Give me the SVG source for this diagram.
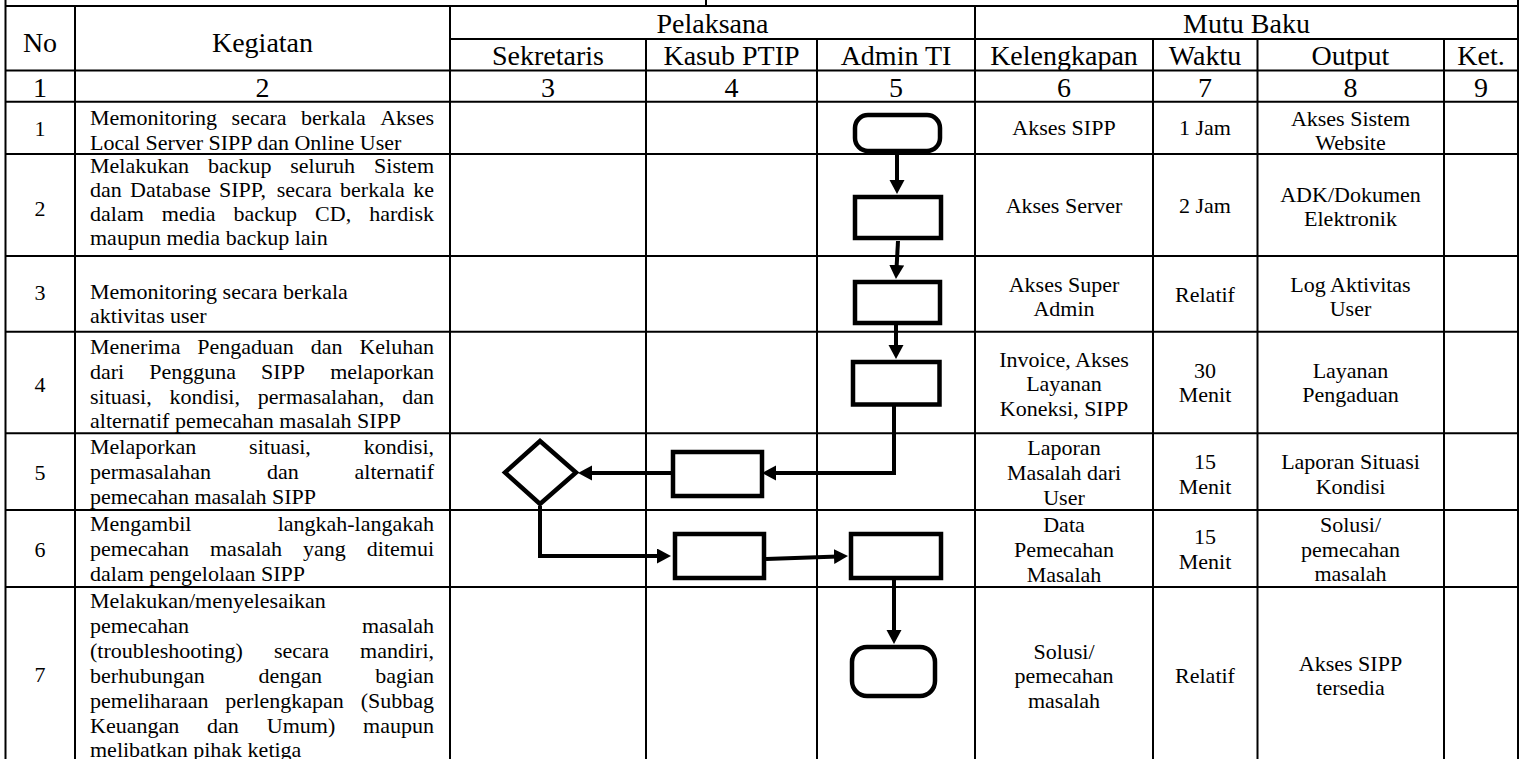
<svg xmlns="http://www.w3.org/2000/svg" width="1525" height="759" viewBox="0 0 1525 759">
<style>
text { font-family: "Liberation Serif", "Times New Roman", serif; fill: #000; }
.h { font-size: 28px; text-anchor: middle; }
.b { font-size: 22px; }
.c { text-anchor: middle; }
.e { text-anchor: end; }
.grid line { stroke: #000; stroke-width: 2; }
.shape { fill: #fff; stroke: #000; stroke-width: 4.5; }
.conn { fill: none; stroke: #000; stroke-width: 4; }
</style>
<defs>
<marker id="ah" markerUnits="userSpaceOnUse" markerWidth="16" markerHeight="16" refX="4" refY="7.5" orient="auto">
<path d="M0,0 L14,7.5 L0,15 z" fill="#000"/>
</marker>
</defs>
<rect width="1525" height="759" fill="#fff"/>
<g id="grid" class="grid">
<line x1="5.5" y1="0" x2="5.5" y2="759"/>
<line x1="75" y1="6" x2="75" y2="759"/>
<line x1="450" y1="6" x2="450" y2="759"/>
<line x1="646" y1="39" x2="646" y2="759"/>
<line x1="817" y1="39" x2="817" y2="759"/>
<line x1="975" y1="6" x2="975" y2="759"/>
<line x1="1153" y1="39" x2="1153" y2="759"/>
<line x1="1257.5" y1="39" x2="1257.5" y2="759"/>
<line x1="1444" y1="39" x2="1444" y2="759"/>
<line x1="1518" y1="0" x2="1518" y2="759"/>
<line x1="706" y1="0" x2="706" y2="6"/>
<line x1="5.5" y1="6" x2="1518" y2="6"/>
<line x1="450" y1="39" x2="1518" y2="39"/>
<line x1="5.5" y1="70.5" x2="1518" y2="70.5"/>
<line x1="5.5" y1="101.7" x2="1518" y2="101.7"/>
<line x1="5.5" y1="154" x2="1518" y2="154"/>
<line x1="5.5" y1="256" x2="1518" y2="256"/>
<line x1="5.5" y1="331.7" x2="1518" y2="331.7"/>
<line x1="5.5" y1="433.3" x2="1518" y2="433.3"/>
<line x1="5.5" y1="510" x2="1518" y2="510"/>
<line x1="5.5" y1="587" x2="1518" y2="587"/>
</g>
<g id="header">
<text class="h" x="40" y="51.5">No</text>
<text class="h" x="262.5" y="51.5">Kegiatan</text>
<text class="h" x="712.5" y="33">Pelaksana</text>
<text class="h" x="1246.5" y="33">Mutu Baku</text>
<text class="h" x="548" y="65">Sekretaris</text>
<text class="h" x="731.5" y="65">Kasub PTIP</text>
<text class="h" x="896" y="65">Admin TI</text>
<text class="h" x="1064" y="65">Kelengkapan</text>
<text class="h" x="1205" y="65">Waktu</text>
<text class="h" x="1350.5" y="65">Output</text>
<text class="h" x="1481" y="65">Ket.</text>
<text class="h" x="40" y="97">1</text>
<text class="h" x="262.5" y="97">2</text>
<text class="h" x="548" y="97">3</text>
<text class="h" x="731.5" y="97">4</text>
<text class="h" x="896" y="97">5</text>
<text class="h" x="1064" y="97">6</text>
<text class="h" x="1205" y="97">7</text>
<text class="h" x="1350.5" y="97">8</text>
<text class="h" x="1481" y="97">9</text>
</g>
<g id="row1">
<text class="b c" x="40" y="136">1</text>
<text class="b" y="124.5"><tspan x="90">Memonitoring</tspan><tspan x="231.6">secara</tspan><tspan x="301.1">berkala</tspan><tspan x="434" class="e">Akses</tspan></text>
<text class="b" x="90" y="149.5">Local Server SIPP dan Online User</text>
<text class="b c" x="1064" y="135">Akses SIPP</text>
<text class="b c" x="1205" y="135">1 Jam</text>
<text class="b c" x="1350.5" y="126">Akses Sistem</text>
<text class="b c" x="1350.5" y="150">Website</text>
</g>
<g id="row2">
<text class="b c" x="40" y="216">2</text>
<text class="b" y="173"><tspan x="90">Melakukan</tspan><tspan x="207.9">backup</tspan><tspan x="290.3">seluruh</tspan><tspan x="434" class="e">Sistem</tspan></text>
<text class="b" y="197"><tspan x="90">dan</tspan><tspan x="130.1">Database</tspan><tspan x="219">SIPP,</tspan><tspan x="276.8">secara</tspan><tspan x="340.1">berkala</tspan><tspan x="434" class="e">ke</tspan></text>
<text class="b" y="221"><tspan x="90">dalam</tspan><tspan x="161.8">media</tspan><tspan x="233.6">backup</tspan><tspan x="315.1">CD,</tspan><tspan x="434" class="e">hardisk</tspan></text>
<text class="b" x="90" y="245">maupun media backup lain</text>
<text class="b c" x="1064" y="213">Akses Server</text>
<text class="b c" x="1205" y="213">2 Jam</text>
<text class="b c" x="1350.5" y="201.5">ADK/Dokumen</text>
<text class="b c" x="1350.5" y="225.5">Elektronik</text>
</g>
<g id="row3">
<text class="b c" x="40" y="300">3</text>
<text class="b" x="90" y="299">Memonitoring secara berkala</text>
<text class="b" x="90" y="323">aktivitas user</text>
<text class="b c" x="1064" y="291.5">Akses Super</text>
<text class="b c" x="1064" y="315.5">Admin</text>
<text class="b c" x="1205" y="301.5">Relatif</text>
<text class="b c" x="1350.5" y="291.5">Log Aktivitas</text>
<text class="b c" x="1350.5" y="315.5">User</text>
</g>
<g id="row4">
<text class="b c" x="40" y="392">4</text>
<text class="b" y="353.5"><tspan x="90">Menerima</tspan><tspan x="197.3">Pengaduan</tspan><tspan x="310.7">dan</tspan><tspan x="434" class="e">Keluhan</tspan></text>
<text class="b" y="378.5"><tspan x="90">dari</tspan><tspan x="149.2">Pengguna</tspan><tspan x="261">SIPP</tspan><tspan x="434" class="e">melaporkan</tspan></text>
<text class="b" y="403.5"><tspan x="90">situasi,</tspan><tspan x="169.6">kondisi,</tspan><tspan x="257.8">permasalahan,</tspan><tspan x="434" class="e">dan</tspan></text>
<text class="b" x="90" y="428">alternatif pemecahan masalah SIPP</text>
<text class="b c" x="1064" y="366.5">Invoice, Akses</text>
<text class="b c" x="1064" y="391">Layanan</text>
<text class="b c" x="1064" y="415.5">Koneksi, SIPP</text>
<text class="b c" x="1205" y="378">30</text>
<text class="b c" x="1205" y="402">Menit</text>
<text class="b c" x="1350.5" y="378">Layanan</text>
<text class="b c" x="1350.5" y="402">Pengaduan</text>
</g>
<g id="row5">
<text class="b c" x="40" y="480">5</text>
<text class="b" y="453.5"><tspan x="90">Melaporkan</tspan><tspan x="249.1">situasi,</tspan><tspan x="434" class="e">kondisi,</tspan></text>
<text class="b" y="479"><tspan x="90">permasalahan</tspan><tspan x="266.9">dan</tspan><tspan x="434" class="e">alternatif</tspan></text>
<text class="b" x="90" y="504">pemecahan masalah SIPP</text>
<text class="b c" x="1064" y="454.5">Laporan</text>
<text class="b c" x="1064" y="479.5">Masalah dari</text>
<text class="b c" x="1064" y="504.5">User</text>
<text class="b c" x="1205" y="468.5">15</text>
<text class="b c" x="1205" y="493.5">Menit</text>
<text class="b c" x="1350.5" y="468.5">Laporan Situasi</text>
<text class="b c" x="1350.5" y="493.5">Kondisi</text>
</g>
<g id="row6">
<text class="b c" x="40" y="557">6</text>
<text class="b" y="530.5"><tspan x="90">Mengambil</tspan><tspan x="434" class="e">langkah-langakah</tspan></text>
<text class="b" y="556"><tspan x="90">pemecahan</tspan><tspan x="210">masalah</tspan><tspan x="303.1">yang</tspan><tspan x="434" class="e">ditemui</tspan></text>
<text class="b" x="90" y="580.5">dalam pengelolaan SIPP</text>
<text class="b c" x="1064" y="531.5">Data</text>
<text class="b c" x="1064" y="556.5">Pemecahan</text>
<text class="b c" x="1064" y="581.5">Masalah</text>
<text class="b c" x="1205" y="543.5">15</text>
<text class="b c" x="1205" y="569">Menit</text>
<text class="b c" x="1350.5" y="531.5">Solusi/</text>
<text class="b c" x="1350.5" y="556.5">pemecahan</text>
<text class="b c" x="1350.5" y="581">masalah</text>
</g>
<g id="row7">
<text class="b c" x="40" y="682">7</text>
<text class="b" x="90" y="608">Melakukan/menyelesaikan</text>
<text class="b" y="633"><tspan x="90">pemecahan</tspan><tspan x="434" class="e">masalah</tspan></text>
<text class="b" y="658"><tspan x="90">(troubleshooting)</tspan><tspan x="274">secara</tspan><tspan x="434" class="e">mandiri,</tspan></text>
<text class="b" y="682.5"><tspan x="90">berhubungan</tspan><tspan x="258.4">dengan</tspan><tspan x="434" class="e">bagian</tspan></text>
<text class="b" y="708"><tspan x="90">pemeliharaan</tspan><tspan x="225.3">perlengkapan</tspan><tspan x="434" class="e">(Subbag</tspan></text>
<text class="b" y="732.5"><tspan x="90">Keuangan</tspan><tspan x="207.1">dan</tspan><tspan x="266.8">Umum)</tspan><tspan x="434" class="e">maupun</tspan></text>
<text class="b" x="90" y="757">melibatkan pihak ketiga</text>
<text class="b c" x="1064" y="658.5">Solusi/</text>
<text class="b c" x="1064" y="682.5">pemecahan</text>
<text class="b c" x="1064" y="708">masalah</text>
<text class="b c" x="1205" y="682.5">Relatif</text>
<text class="b c" x="1350.5" y="670.5">Akses SIPP</text>
<text class="b c" x="1350.5" y="695">tersedia</text>
</g>
<g id="connectors">
<path class="conn" d="M897,153 L897,184" marker-end="url(#ah)"/>
<path class="conn" d="M898,241 L896.5,269" marker-end="url(#ah)"/>
<path class="conn" d="M896,323 L896,349" marker-end="url(#ah)"/>
<path class="conn" d="M894,406 L894,473 L772,473" marker-end="url(#ah)"/>
<path class="conn" d="M673,473 L588,473" marker-end="url(#ah)"/>
<path class="conn" d="M540,506 L540,556 L661,556" marker-end="url(#ah)"/>
<path class="conn" d="M766,559 L838,556.4" marker-end="url(#ah)"/>
<path class="conn" d="M894,580 L894,634" marker-end="url(#ah)"/>
</g>
<g id="start"><rect class="shape" x="855" y="115" width="85" height="36" rx="13"/></g>
<g id="backup"><rect class="shape" x="855" y="197" width="86" height="41"/></g>
<g id="monitor"><rect class="shape" x="855" y="282" width="85" height="41"/></g>
<g id="terima"><rect class="shape" x="853" y="362" width="86.5" height="42.5"/></g>
<g id="lapor"><rect class="shape" x="673" y="452" width="89" height="44"/></g>
<g id="decision"><polygon class="shape" points="540,441 576,472.5 540,504 505,472.5"/></g>
<g id="ambil"><rect class="shape" x="675" y="534" width="89" height="44"/></g>
<g id="solusi"><rect class="shape" x="851" y="534" width="90" height="44"/></g>
<g id="end"><rect class="shape" x="852" y="647" width="83" height="49" rx="15"/></g>
</svg>
